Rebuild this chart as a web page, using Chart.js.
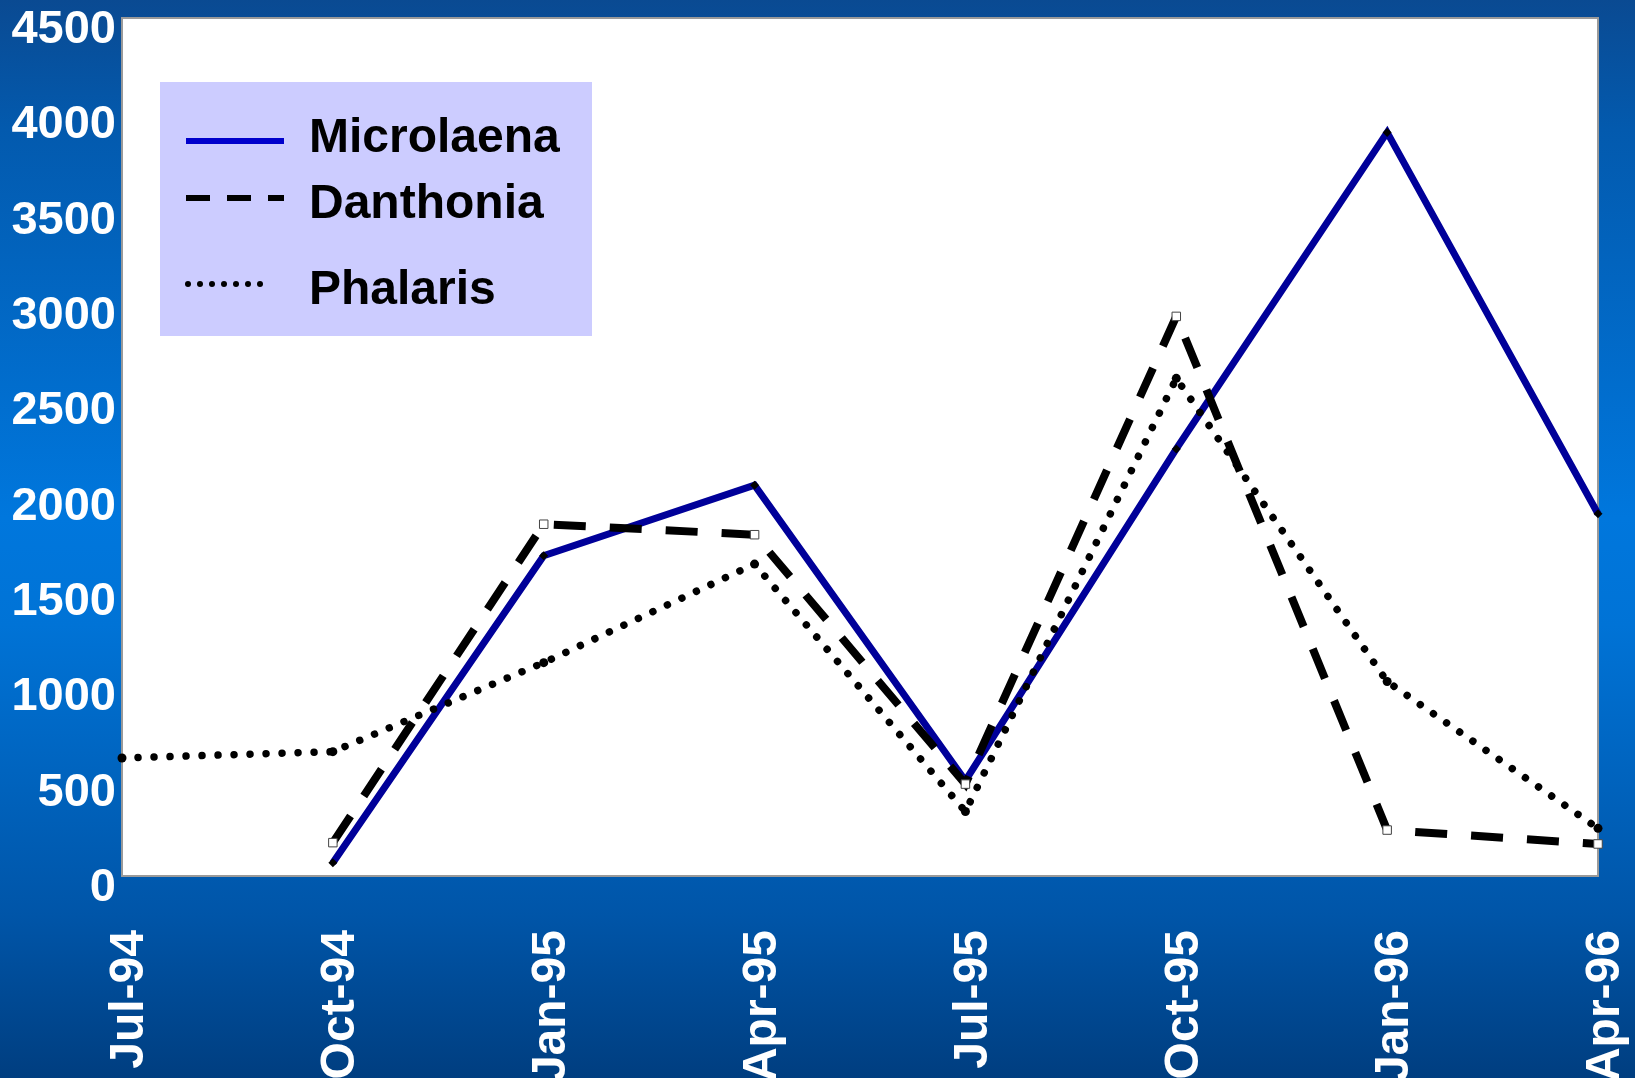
<!DOCTYPE html>
<html>
<head>
<meta charset="utf-8">
<title>Grass species counts, Jul-94 to Apr-96</title>
<script src="https://cdn.jsdelivr.net/npm/chart.js@4/dist/chart.umd.min.js"></script>
<style>
  html, body { margin: 0; padding: 0; overflow: hidden; background: #0060b8; }
  #wrap { position: relative; width: 1635px; height: 1078px; }
</style>
</head>
<body>
<div id="wrap"><canvas id="chart"></canvas></div>
<script>
// Sampling dates (quarterly)
const months = ['Jul-94', 'Oct-94', 'Jan-95', 'Apr-95', 'Jul-95', 'Oct-95', 'Jan-96', 'Apr-96'];

// Series values per sampling date (null = not sampled)
const microlaena = [null, 70, 1680, 2050, 500, 2240, 3900, 1900];
const danthonia  = [null, 175, 1845, 1790, 482, 2935, 241, 168];
const phalaris   = [619, 652, 1119, 1636, 338, 2610, 1020, 250];

// Value axis
const yMin = 0;
const yMax = 4500;
const yStep = 500;

const FONT = "'Liberation Sans', Arial, Helvetica, sans-serif";

// Blue gradient backdrop, white plot panel and its grey frame
const panelPlugin = {
  id: 'panel',
  beforeDraw(chart) {
    const { ctx, width, height, chartArea: a } = chart;
    ctx.save();
    const g = ctx.createLinearGradient(0, 0, 0, height);
    g.addColorStop(0, '#0a4a92');
    g.addColorStop(0.12, '#035aae');
    g.addColorStop(0.48, '#0077dd');
    g.addColorStop(0.58, '#0073d6');
    g.addColorStop(0.85, '#0055a8');
    g.addColorStop(1, '#003e80');
    ctx.fillStyle = g;
    ctx.fillRect(0, 0, width, height);
    ctx.fillStyle = '#ffffff';
    ctx.fillRect(a.left, a.top, a.right - a.left, a.bottom - a.top);
    ctx.strokeStyle = '#9a9a9a';
    ctx.lineWidth = 2;
    ctx.strokeRect(a.left, a.top, a.right - a.left, a.bottom - a.top);
    ctx.restore();
  }
};

// Key box in the upper left of the plot
const keyPlugin = {
  id: 'key',
  afterDraw(chart) {
    const { ctx } = chart;
    ctx.save();
    ctx.fillStyle = '#ccccff';
    ctx.fillRect(160, 82, 432, 254);

    const x0 = 186, x1 = 284, tx = 309;
    // Microlaena sample
    ctx.strokeStyle = '#0000cc';
    ctx.lineWidth = 6;
    ctx.lineCap = 'butt';
    ctx.setLineDash([]);
    ctx.beginPath(); ctx.moveTo(x0, 141); ctx.lineTo(x1, 141); ctx.stroke();
    // Danthonia sample
    ctx.strokeStyle = '#000000';
    ctx.setLineDash([24, 17]);
    ctx.beginPath(); ctx.moveTo(x0, 198); ctx.lineTo(x1, 198); ctx.stroke();
    // Phalaris sample
    ctx.setLineDash([]);
    ctx.fillStyle = '#000000';
    for (let i = 0; i < 7; i++) {
      ctx.beginPath(); ctx.arc(x0 + 2 + i * 12, 284, 3, 0, Math.PI * 2); ctx.fill();
    }

    ctx.font = 'bold 48px ' + FONT;
    ctx.textBaseline = 'alphabetic';
    ctx.textAlign = 'left';
    ctx.fillText(chart.data.datasets[0].label, tx, 152);
    ctx.fillText(chart.data.datasets[1].label, tx, 218);
    ctx.fillText(chart.data.datasets[2].label, tx, 304);
    ctx.restore();
  }
};

new Chart(document.getElementById('chart'), {
  type: 'line',
  data: {
    labels: months,
    datasets: [
      {
        label: 'Microlaena',
        data: microlaena,
        borderColor: '#000099',
        borderWidth: 7,
        pointStyle: 'rectRot',
        pointRadius: 4.5,
        pointBackgroundColor: '#000000',
        pointBorderColor: '#000000',
        pointBorderWidth: 0,
        tension: 0,
        spanGaps: false,
        clip: false,
        order: 3
      },
      {
        label: 'Danthonia',
        data: danthonia,
        borderColor: '#000000',
        borderWidth: 8,
        borderDash: [32, 24],
        borderCapStyle: 'butt',
        pointStyle: 'rect',
        pointRadius: 6,
        pointBackgroundColor: '#ffffff',
        pointBorderColor: '#444444',
        pointBorderWidth: 1,
        tension: 0,
        clip: false,
        order: 1
      },
      {
        label: 'Phalaris',
        data: phalaris,
        borderColor: '#000000',
        borderWidth: 7.5,
        borderDash: [0.01, 16],
        borderCapStyle: 'round',
        pointStyle: 'circle',
        pointRadius: 4.5,
        pointBackgroundColor: '#000000',
        pointBorderColor: '#000000',
        pointBorderWidth: 0,
        tension: 0,
        clip: false,
        order: 2
      }
    ]
  },
  options: {
    responsive: true,
    maintainAspectRatio: false,
    animation: false,
    devicePixelRatio: 1,
    layout: { padding: { top: 18, right: 37, bottom: 0, left: 0 } },
    plugins: {
      legend: { display: false },
      tooltip: { enabled: false },
      title: { display: false }
    },
    scales: {
      x: {
        type: 'category',
        offset: false,
        grid: { display: false, drawTicks: false },
        border: { display: false },
        ticks: {
          color: '#ffffff',
          font: { family: FONT, size: 48, weight: 'bold' },
          minRotation: 90,
          maxRotation: 90,
          autoSkip: false,
          padding: 54,
          labelOffset: 8
        },
        afterFit(axis) {
          axis.height = 202;
          axis.paddingLeft = 0;
          axis.paddingRight = 0;
        }
      },
      y: {
        min: yMin,
        max: yMax,
        grid: { display: false, drawTicks: false },
        border: { display: false },
        ticks: {
          stepSize: yStep,
          color: '#ffffff',
          font: { family: FONT, size: 47, weight: 'bold' },
          padding: 6,
          labelOffset: 12,
          callback: (value) => String(value)
        },
        afterFit(axis) {
          axis.width = 122;
          axis.paddingTop = 0;
          axis.paddingBottom = 0;
        }
      }
    }
  },
  plugins: [panelPlugin, keyPlugin]
});
</script>
</body>
</html>
